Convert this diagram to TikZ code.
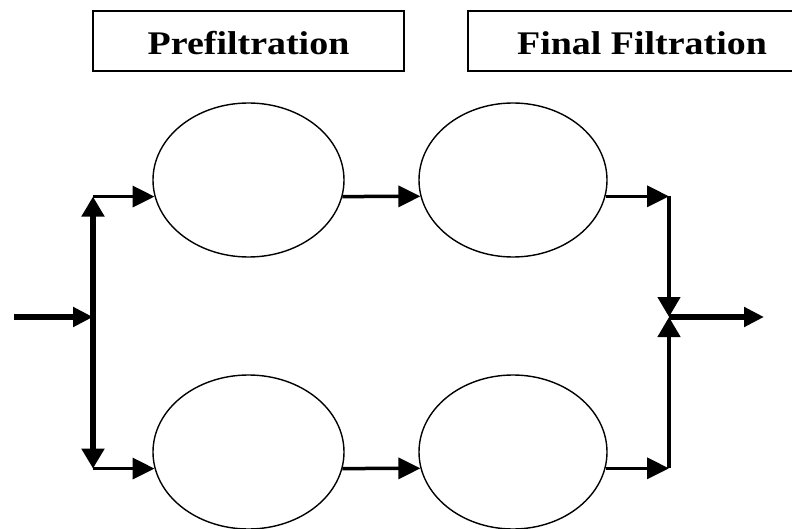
\documentclass[tikz,border=0pt]{standalone}
\usepackage{fontspec}
\newfontfamily\labelfont[FakeStretch=1.15,Ligatures=NoCommon]{Liberation Serif Bold}
\usetikzlibrary{arrows.meta,shapes.geometric}

\tikzset{
  stage/.style={draw, line width=1.5pt, minimum width=311pt, minimum height=60pt,
    inner sep=0pt, text height=28pt, text depth=0pt,
    font=\labelfont\fontsize{33}{36}\selectfont},
  filter/.style={ellipse, draw, line width=1.4pt, inner sep=0pt,
    minimum width=191pt, minimum height=154pt},
  branch/.style={line width=3.5pt, -{Triangle[length=22pt,width=21pt]}},
  trunk/.style={line width=6pt},
  thintrunk/.style={line width=4.5pt},
  uptip/.style={-{Triangle[length=20pt,width=22pt]}},
  feed/.style={line width=5.5pt, -{Triangle[length=20pt,width=19pt]}},
}

\begin{document}
\begin{tikzpicture}[x=1pt,y=-1pt]
  \clip (0,0) rectangle (792,529);
  \fill[white] (0,0) rectangle (792,529);

  % stage titles
  \node[stage] (pre) at (248.5,41) {Prefiltration};
  \node[stage, minimum width=348pt] (fin) at (642,41) {Final Filtration};

  % filter vessels
  \node[filter] (e1) at (248.5,180) {};
  \node[filter, minimum width=188pt] (e2) at (513,180) {};
  \node[filter] (e3) at (248.5,452) {};
  \node[filter, minimum width=188pt] (e4) at (513,452) {};

  % junction points
  \coordinate (in)  at (14,317);
  \coordinate (jL)  at (93,317);
  \coordinate (tL)  at (e1.190 -| jL);
  \coordinate (bL)  at (e3.190 -| jL);
  \coordinate (jR)  at (669,317);
  \coordinate (tR)  at (e2.350 -| jR);
  \coordinate (bR)  at (e4.350 -| jR);
  \coordinate (out) at (764,317);

  % inlet and split
  \draw[feed] (in) -- (jL);
  \draw[trunk, uptip] (jL) -- (tL);
  \draw[trunk, uptip] (jL) -- (bL);
  \draw[branch] (tL) -- (e1.190);
  \draw[branch] (bL) -- (e3.190);

  % between stages
  \draw[branch] (e1.350) -- (e2.190);
  \draw[branch] (e3.350) -- (e4.190);

  % merge and outlet
  \draw[branch] (e2.350) -- (tR);
  \draw[branch] (e4.350) -- (bR);
  \draw[thintrunk, uptip] (tR) -- (jR);
  \draw[thintrunk, uptip] (bR) -- (jR);
  \draw[feed] (jR) -- (out);
\end{tikzpicture}
\end{document}
